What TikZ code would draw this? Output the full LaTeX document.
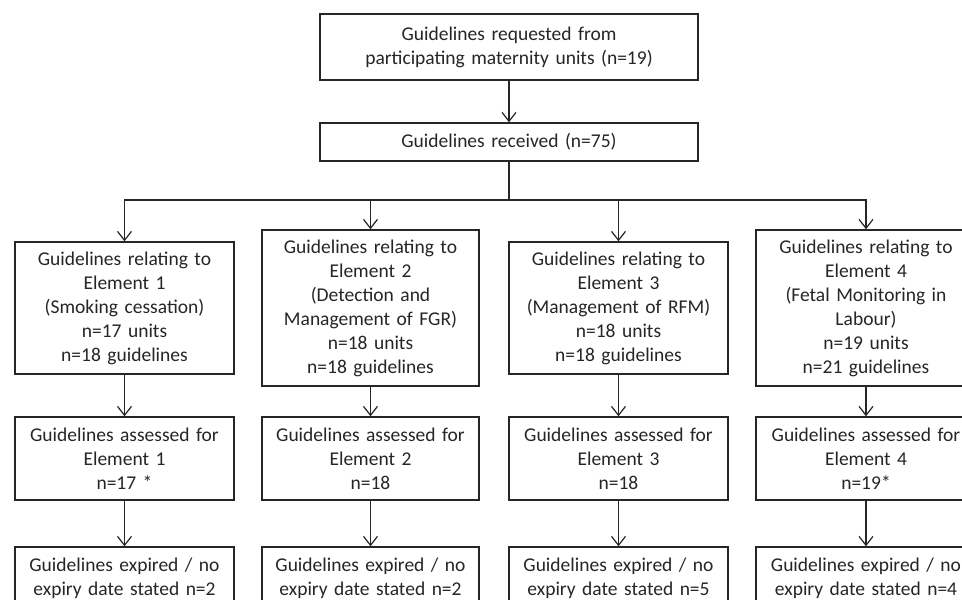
\documentclass[tikz,border=0pt]{standalone}
\usepackage{fontspec}
\setmainfont{Carlito}
\usetikzlibrary{arrows.meta}

\definecolor{inkgray}{HTML}{262626}

\tikzset{
  flowbox/.style={draw=inkgray, line width=1.4pt, inner sep=0pt, align=center,
    text=inkgray, font=\fontsize{19.5}{24}\selectfont},
  flowarrow/.style={draw=inkgray, line width=1.2pt, -{Straight Barb[length=9pt,width=14pt,line width=1.2pt]}},
}

\begin{document}
\begin{tikzpicture}[x=1pt,y=-1pt]
  \useasboundingbox (0,0) rectangle (962,600);
  \clip (0,0) rectangle (962,600);
  \fill[white] (0,0) rectangle (962,600);

  % top of the chart
  \node[flowbox, text width=378pt, minimum height=66pt] (requested) at (509,47) {Guidelines requested from\\participating maternity units (n=19)};
  \node[flowbox, text width=378pt, minimum height=38pt] (received) at (509,142) {Guidelines received (n=75)};
  \coordinate (split) at (509,200);

  % guidelines per element
  \node[flowbox, text width=219pt, minimum height=132pt] (relate1) at (124.5,308) {Guidelines relating to\\Element 1\\(Smoking cessation)\\n=17 units\\n=18 guidelines};
  \node[flowbox, text width=217pt, minimum height=156pt] (relate2) at (370.5,308) {Guidelines relating to\\Element 2\\(Detection and\\Management of FGR)\\n=18 units\\n=18 guidelines};
  \node[flowbox, text width=219pt, minimum height=132pt] (relate3) at (618.5,308) {Guidelines relating to\\Element 3\\(Management of RFM)\\n=18 units\\n=18 guidelines};
  \node[flowbox, text width=220pt, minimum height=156pt] (relate4) at (866,308) {Guidelines relating to\\Element 4\\(Fetal Monitoring in\\Labour)\\n=19 units\\n=21 guidelines};

  % assessed
  \node[flowbox, text width=219pt, minimum height=83pt] (assess1) at (124.5,458.5) {Guidelines assessed for\\Element 1\\n=17 *};
  \node[flowbox, text width=217pt, minimum height=83pt] (assess2) at (370.5,458.5) {Guidelines assessed for\\Element 2\\n=18};
  \node[flowbox, text width=219pt, minimum height=83pt] (assess3) at (618.5,458.5) {Guidelines assessed for\\Element 3\\n=18};
  \node[flowbox, text width=220pt, minimum height=83pt] (assess4) at (866,458.5) {Guidelines assessed for\\Element 4\\n=19*};

  % expired
  \node[flowbox, text width=219pt, minimum height=62pt] (expire1) at (124.5,578) {Guidelines expired / no\\expiry date stated n=2};
  \node[flowbox, text width=217pt, minimum height=62pt] (expire2) at (370.5,578) {Guidelines expired / no\\expiry date stated n=2};
  \node[flowbox, text width=219pt, minimum height=62pt] (expire3) at (618.5,578) {Guidelines expired / no\\expiry date stated n=5};
  \node[flowbox, text width=220pt, minimum height=62pt] (expire4) at (866,578) {Guidelines expired / no\\expiry date stated n=4};

  \draw[flowarrow] (requested) -- (received);
  \draw[draw=inkgray, line width=1.2pt] (received) -- (split);
  \foreach \i in {1,...,4} {
    \draw[flowarrow] (split) -| (relate\i);
    \draw[flowarrow] (relate\i) -- (assess\i);
    \draw[flowarrow] (assess\i) -- (expire\i);
  }
\end{tikzpicture}
\end{document}
